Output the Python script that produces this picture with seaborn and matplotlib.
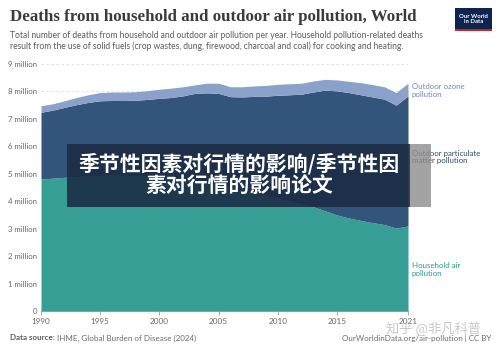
import matplotlib
matplotlib.use("Agg")
import matplotlib.pyplot as plt
import seaborn as sns
import numpy as np
import pandas as pd
from matplotlib.patches import Rectangle

years = list(range(1990, 2022))
household = [4.81, 4.84, 4.87, 4.90, 4.92, 4.94, 4.95, 4.94, 4.93, 4.91, 4.88, 4.84,
             4.80, 4.75, 4.68, 4.60, 4.50, 4.40, 4.30, 4.20, 4.10, 4.00, 3.90, 3.80,
             3.65, 3.50, 3.39, 3.30, 3.22, 3.15, 3.02, 3.10]
particulate = [2.43, 2.48, 2.55, 2.62, 2.68, 2.72, 2.72, 2.73, 2.75, 2.80, 2.87, 2.94,
               3.04, 3.18, 3.27, 3.33, 3.31, 3.40, 3.52, 3.63, 3.76, 3.88, 4.00, 4.18,
               4.40, 4.52, 4.57, 4.58, 4.58, 4.57, 4.48, 4.74]
ozone = [0.24, 0.23, 0.24, 0.26, 0.28, 0.30, 0.31, 0.31, 0.31, 0.32, 0.33, 0.34,
         0.33, 0.31, 0.35, 0.37, 0.36, 0.37, 0.38, 0.39, 0.40, 0.40, 0.40, 0.40,
         0.39, 0.40, 0.41, 0.44, 0.45, 0.45, 0.46, 0.46]
series_names = ["Household air\npollution", "Outdoor particulate\nmatter pollution", "Outdoor ozone\npollution"]
y_ticks = [0, 1, 2, 3, 4, 5, 6, 7, 8, 9]
y_tick_labels = ["0", "1 million", "2 million", "3 million", "4 million", "5 million",
                 "6 million", "7 million", "8 million", "9 million"]
x_ticks = [1990, 1995, 2000, 2005, 2010, 2015, 2021]

title = "Deaths from household and outdoor air pollution, World"
subtitle = ("Total number of deaths from household and outdoor air pollution per year. Household pollution-related deaths\n"
            "result from the use of solid fuels (crop wastes, dung, firewood, charcoal and coal) for cooking and heating.")
overlay_text = "季节性因素对行情的影响/季节性因\n素对行情的影响论文"
source_bold = "Data source:"
source_rest = " IHME, Global Burden of Disease (2024)"
footer_right = "OurWorldinData.org/air-pollution | CC BY"
watermark = "知乎 @非凡科普"

colors = ["#369e95", "#34557b", "#8aa1ca"]
label_colors = ["#2e9a8f", "#2f4a6d", "#6f88bd"]

df = pd.DataFrame({"year": years, "household": household,
                   "particulate": particulate, "ozone": ozone})

sns.set_theme(style="white")
plt.rcParams["font.family"] = ["Lato", "DejaVu Sans"]

W, H = 500, 352
fig = plt.figure(figsize=(5, 3.52), dpi=100)
ax = fig.add_axes([41 / W, 1 - 311 / H, (408 - 41) / W, (311 - 64) / H])

ax.stackplot(df["year"], df["household"], df["particulate"], df["ozone"],
             colors=colors, linewidth=0, zorder=2)
ax.set_xlim(1990, 2021)
ax.set_ylim(0, 9)
ax.set_yticks(y_ticks)
ax.set_yticklabels(y_tick_labels)
ax.set_xticks(x_ticks)
ax.set_xticklabels([str(x) for x in x_ticks])
ax.tick_params(axis="y", length=0, labelsize=5.6, labelcolor="#666666", pad=3)
ax.tick_params(axis="x", length=3, width=0.6, color="#999999", labelsize=5.9,
               labelcolor="#666666", pad=2, bottom=True)
for lab in ax.get_yticklabels():
    lab.set_horizontalalignment("right")
for yv in y_ticks[1:]:
    ax.axhline(yv, color="#dddddd", lw=0.6, ls=(0, (3, 3)), zorder=1)
for s in ["top", "right", "left"]:
    ax.spines[s].set_visible(False)
ax.spines["bottom"].set_color("#999999")
ax.spines["bottom"].set_linewidth(0.7)
ax.set_xlabel("")
ax.set_ylabel("")

# right side labels
lab_y = [(265 + 274) / 2, (152 + 162) / 2, (86 + 95) / 2]
for name, c, py in zip(series_names, label_colors, lab_y):
    fig.text(412 / W, 1 - py / H, name, color=c, fontsize=5.7, va="center", ha="left",
             linespacing=1.1)

# titles
fig.text(10 / W, 1 - 17 / H, title, fontsize=12.2, fontweight="bold",
         family=["Liberation Serif", "DejaVu Serif"], color="#3a3a3a", va="center", ha="left")
fig.text(10 / W, 1 - 41 / H, subtitle, fontsize=6.15, color="#5b5b5b", va="center", ha="left",
         linespacing=1.25)

# logo
fig.patches.append(Rectangle((455 / W, 1 - 30 / H), 37 / W, 22 / H, transform=fig.transFigure,
                             facecolor="#0d2350", edgecolor="none"))
fig.patches.append(Rectangle((455 / W, 1 - 31 / H), 37 / W, 1.5 / H, transform=fig.transFigure,
                             facecolor="#ce261e", edgecolor="none"))
fig.text(473.5 / W, 1 - 19 / H, "Our World\nin Data", fontsize=4.3, fontweight="bold",
         color="white", ha="center", va="center", linespacing=1.0)

# footer
t1 = fig.text(10 / W, 1 - 338 / H, source_bold, fontsize=5.8, fontweight="bold",
              color="#5b5b5b", va="center", ha="left")
fig.canvas.draw()
bb = t1.get_window_extent()
fig.text(bb.x1 / fig.bbox.width, 1 - 338 / H, source_rest, fontsize=5.8,
         color="#6b6b6b", va="center", ha="left")
fig.text(491 / W, 1 - 338 / H, footer_right, fontsize=5.8, color="#6b6b6b",
         va="center", ha="right")
fig.text(434 / W, 1 - 329 / H, watermark, fontsize=9.5,
         family=["Noto Sans CJK SC", "DejaVu Sans"], color="#bbbbbb", alpha=0.8,
         va="center", ha="center")

# overlay banner
fig.patches.append(Rectangle((67 / W, 1 - 207 / H), (410 - 67) / W, 63 / H,
                             transform=fig.transFigure, facecolor="#1b2a44",
                             alpha=0.88, edgecolor="none", zorder=5))
fig.patches.append(Rectangle((410 / W, 1 - 207 / H), 21 / W, 63 / H,
                             transform=fig.transFigure, facecolor="#8c8c8c",
                             alpha=0.8, edgecolor="none", zorder=5))
fig.text(239 / W, 1 - 175 / H, overlay_text, fontsize=15, fontweight="bold",
         family=["Noto Sans CJK SC", "DejaVu Sans"], color="white",
         ha="center", va="center", linespacing=1.12, zorder=6)

fig.savefig("out.png", dpi=100)
